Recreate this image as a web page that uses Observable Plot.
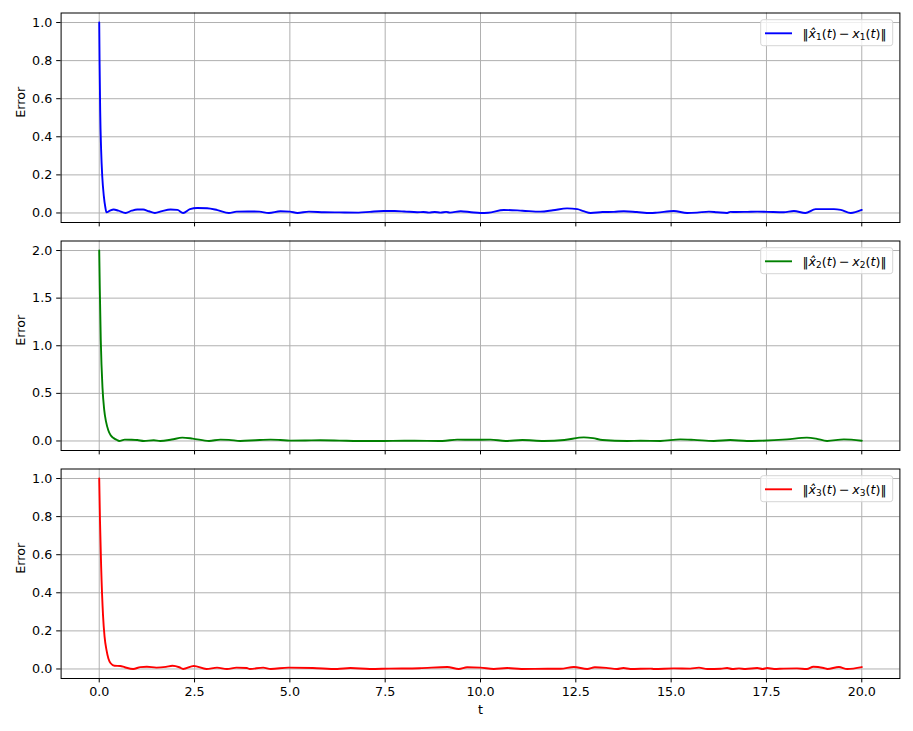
<!DOCTYPE html>
<html>
<head>
<meta charset="utf-8">
<script src="https://cdn.jsdelivr.net/npm/d3@7"></script>
<script src="https://cdn.jsdelivr.net/npm/@observablehq/plot@0.6"></script>
<style>
  html, body { margin: 0; padding: 0; background: white; }
  #fig { position: relative; width: 913px; height: 731px; background: white; }
  #fig svg { position: absolute; left: 0; overflow: visible; background: transparent; }
</style>
</head>
<body>
<div id="fig"></div>
<script>
// ---- data (t, error) ----
const xTicks = [0, 2.5, 5, 7.5, 10, 12.5, 15, 17.5, 20];
const yTicks1 = [0, 0.2, 0.4, 0.6, 0.8, 1.0];
const yTicks2 = [0, 0.5, 1.0, 1.5, 2.0];
const yTicks3 = [0, 0.2, 0.4, 0.6, 0.8, 1.0];

const error1 = [[0,1.0],[0.01,0.78],[0.025,0.54],[0.05,0.33],[0.08,0.19],[0.12,0.09],[0.16,0.03],[0.19,0.003],[0.28,0.012],[0.38,0.018],[0.5,0.012],[0.69,0.0],[0.85,0.012],[1.0,0.018],[1.15,0.018],[1.3,0.009],[1.46,0.0],[1.65,0.01],[1.87,0.018],[2.05,0.016],[2.2,0.0],[2.38,0.02],[2.57,0.026],[2.83,0.025],[3.1,0.015],[3.4,0.0],[3.6,0.007],[3.9,0.008],[4.2,0.007],[4.45,0.0],[4.75,0.009],[5.0,0.007],[5.2,0.0],[5.5,0.007],[5.9,0.004],[6.3,0.003],[6.8,0.002],[7.1,0.006],[7.46,0.01],[7.75,0.01],[8.0,0.008],[8.34,0.004],[8.5,0.005],[8.65,0.002],[8.8,0.005],[8.95,0.002],[9.1,0.006],[9.2,0.002],[9.48,0.009],[9.75,0.004],[10.0,0.0],[10.2,0.001],[10.61,0.016],[11.1,0.012],[11.57,0.007],[11.9,0.014],[12.27,0.024],[12.54,0.02],[12.7,0.01],[12.89,0.0],[13.2,0.005],[13.5,0.006],[13.76,0.009],[14.1,0.005],[14.46,0.0],[14.63,0.002],[15.07,0.01],[15.42,0.0],[15.68,0.002],[15.99,0.007],[16.2,0.004],[16.47,0.0],[16.55,0.006],[16.7,0.005],[17.0,0.006],[17.26,0.007],[17.52,0.006],[17.95,0.004],[18.22,0.01],[18.52,0.0],[18.79,0.02],[19.27,0.02],[19.45,0.016],[19.71,0.0],[20.0,0.016]];

const error2 = [[0,2.0],[0.015,1.6],[0.04,1.07],[0.087,0.55],[0.13,0.33],[0.18,0.2],[0.24,0.11],[0.3,0.06],[0.38,0.03],[0.47,0.01],[0.52,0.0],[0.67,0.014],[0.85,0.013],[1.0,0.01],[1.17,0.0],[1.43,0.007],[1.6,0.0],[1.9,0.015],[2.18,0.035],[2.45,0.025],[2.88,0.0],[3.18,0.014],[3.4,0.012],[3.7,0.0],[4.1,0.008],[4.49,0.014],[4.75,0.01],[5.0,0.004],[5.4,0.005],[5.8,0.007],[6.3,0.004],[6.8,0.0],[7.46,0.0],[8.0,0.002],[8.6,0.001],[9.0,0.0],[9.39,0.014],[9.8,0.013],[10.26,0.014],[10.66,0.0],[11.1,0.01],[11.66,0.0],[12.2,0.01],[12.71,0.038],[12.95,0.03],[13.2,0.01],[13.85,0.0],[14.2,0.003],[14.72,0.0],[15.24,0.017],[15.6,0.012],[16.12,0.0],[16.55,0.01],[16.99,0.0],[17.3,0.002],[18.04,0.017],[18.56,0.035],[18.8,0.025],[19.09,0.0],[19.53,0.017],[20.0,0.003]];

const error3 = [[0,1.0],[0.02,0.78],[0.05,0.54],[0.1,0.28],[0.14,0.17],[0.19,0.1],[0.24,0.055],[0.3,0.03],[0.4,0.017],[0.55,0.016],[0.67,0.009],[0.89,0.0],[1.08,0.01],[1.25,0.012],[1.5,0.007],[1.75,0.011],[1.92,0.017],[2.1,0.009],[2.2,0.0],[2.48,0.016],[2.81,0.0],[3.09,0.007],[3.35,0.0],[3.6,0.007],[3.87,0.005],[3.95,0.0],[4.3,0.007],[4.5,0.0],[4.96,0.007],[5.6,0.005],[6.24,0.0],[6.59,0.005],[7.1,0.0],[7.6,0.002],[8.4,0.004],[9.13,0.01],[9.43,0.0],[9.65,0.009],[10.0,0.007],[10.35,0.0],[10.7,0.005],[11.07,0.0],[11.76,0.001],[12.1,0.001],[12.45,0.01],[12.8,0.0],[13.0,0.009],[13.3,0.006],[13.58,0.0],[13.75,0.005],[13.93,0.0],[14.46,0.002],[14.55,0.0],[15.07,0.003],[15.5,0.002],[15.73,0.007],[15.95,0.0],[16.3,0.001],[16.47,0.005],[16.6,0.0],[16.78,0.003],[16.95,0.0],[17.26,0.005],[17.4,0.0],[17.52,0.005],[17.7,0.0],[17.95,0.002],[18.3,0.003],[18.56,0.0],[18.73,0.012],[19.0,0.005],[19.1,0.0],[19.4,0.01],[19.62,0.0],[20.0,0.01]];

const legendIndex = ["1", "2", "3"];
const colors = ["#0000ff", "#008000", "#ff0000"];

// ---- drawing ----
const FONT = "DejaVu Sans, sans-serif";
const FS = 12.7;
const fig = document.getElementById("fig");

function panel({series, color, yDomain, yTicks, idx, top, height, marginBottom, showX}) {
  const data = series.map(([t, v]) => ({t, v}));
  const grid = {stroke: "#b0b0b0", strokeOpacity: 1, strokeWidth: 1};
  const marks = [
    Plot.gridX(xTicks, grid),
    Plot.gridY(yTicks, grid),
    Plot.line(data, {x: "t", y: "v", stroke: color, strokeWidth: 1.9, curve: "monotone-x", clip: true}),
    Plot.frame({stroke: "black", strokeWidth: 1}),
    Plot.axisX(xTicks, {tickSize: 4.4, tickPadding: 4.4, strokeWidth: 1,
      tickFormat: showX ? (d => d3.format(".1f")(d)) : (() => ""), label: null}),
    Plot.axisY(yTicks, {tickSize: 4.4, tickPadding: 4.4, strokeWidth: 1,
      tickFormat: d => d3.format(".1f")(d), label: null}),
    Plot.text(["Error"], {frameAnchor: "left", rotate: -90, dx: -40.6, fontSize: FS, fill: "black"})
  ];
  if (showX) {
    marks.push(Plot.text(["t"], {frameAnchor: "bottom", dy: 31.5, lineAnchor: "middle", fontSize: FS, fill: "black"}));
  }
  const svg = Plot.plot({
    width: 913, height,
    marginLeft: 60.6, marginRight: 13.6, marginTop: 12.5, marginBottom,
    style: {fontFamily: FONT, fontSize: FS + "px", color: "black", background: "transparent"},
    x: {domain: [-1, 21]},
    y: {domain: yDomain},
    marks
  });
  svg.style.top = top + "px";
  fig.appendChild(svg);

  // legend (upper right)
  const g = d3.select(svg).append("g").attr("font-family", FONT).attr("font-size", FS)
    .attr("text-anchor", "start");
  g.append("rect").attr("x", 760.7).attr("y", 19.7).attr("width", 132).attr("height", 26)
    .attr("rx", 2.5).attr("fill", "white").attr("fill-opacity", 0.8)
    .attr("stroke", "#d6d6d6").attr("stroke-width", 1);
  g.append("line").attr("x1", 765).attr("x2", 792).attr("y1", 33.3).attr("y2", 33.3)
    .attr("stroke", color).attr("stroke-width", 1.9);
  const txt = g.append("text").attr("x", 802.5).attr("y", 37.6).attr("fill", "black")
    .attr("text-anchor", "start");
  const sub = idx;
  const bars = (sel) => sel.append("tspan").attr("letter-spacing", "-2.4px").text("||");
  bars(txt);
  txt.append("tspan").attr("dx", 2.2).attr("font-style", "italic").text("x\u0302");
  txt.append("tspan").attr("font-size", 9).attr("dy", 2.5).text(sub);
  txt.append("tspan").attr("dy", -2.5).text("(");
  txt.append("tspan").attr("font-style", "italic").text("t");
  txt.append("tspan").text(")\u2009\u2212\u2009");
  txt.append("tspan").attr("font-style", "italic").text("x");
  txt.append("tspan").attr("font-size", 9).attr("dy", 2.5).text(sub);
  txt.append("tspan").attr("dy", -2.5).text("(");
  txt.append("tspan").attr("font-style", "italic").text("t");
  txt.append("tspan").text(")");
  bars(txt);
}

panel({series: error1, color: colors[0], yDomain: [-0.05, 1.05], yTicks: yTicks1, idx: legendIndex[0],
  top: 0, height: 228, marginBottom: 6, showX: false});
panel({series: error2, color: colors[1], yDomain: [-0.1, 2.1], yTicks: yTicks2, idx: legendIndex[1],
  top: 228, height: 227.5, marginBottom: 5.5, showX: false});
panel({series: error3, color: colors[2], yDomain: [-0.05, 1.05], yTicks: yTicks3, idx: legendIndex[2],
  top: 455.5, height: 275.5, marginBottom: 53.5, showX: true});
</script>
</body>
</html>
